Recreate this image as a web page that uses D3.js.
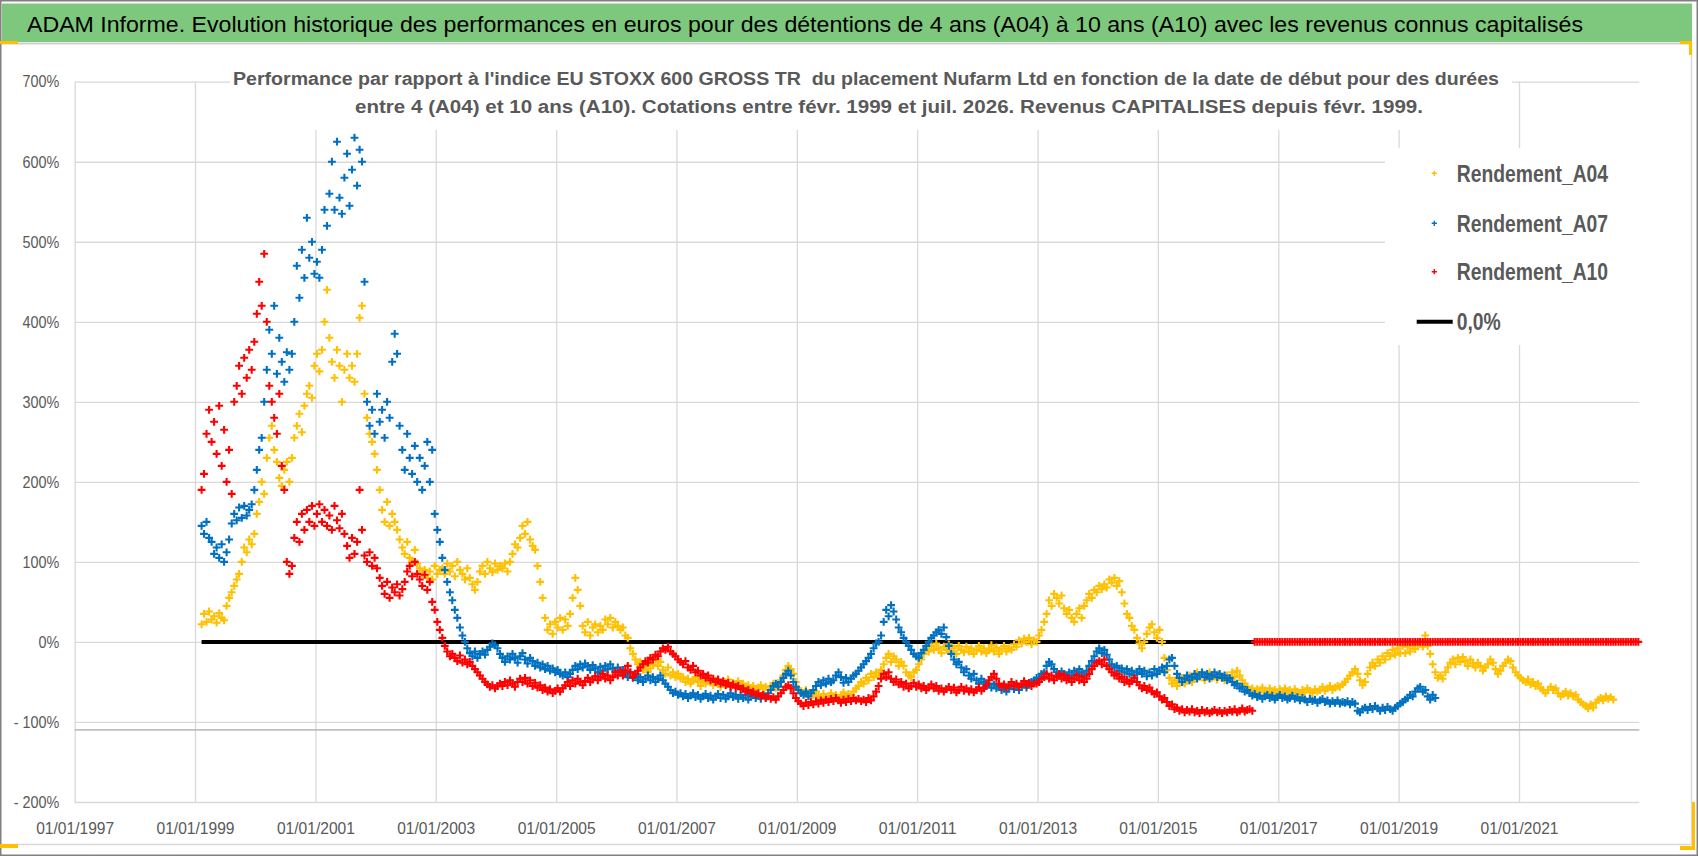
<!DOCTYPE html>
<html>
<head>
<meta charset="utf-8">
<script src="https://cdn.jsdelivr.net/npm/d3@7/dist/d3.min.js"></script>
<style>
  html, body { margin: 0; padding: 0; background: #fff; }
  svg text { font-family: "Liberation Sans", Arial, sans-serif; white-space: pre; }
</style>
</head>
<body>
<svg id="chart" width="1698" height="856"></svg>
<script>
// Texts
const mainTitle = "ADAM Informe. Evolution historique des performances en euros pour des détentions de 4 ans (A04) à 10 ans (A10) avec les revenus connus capitalisés";
const subTitleLines = [
    "Performance par rapport à l'indice EU STOXX 600 GROSS TR  du placement Nufarm Ltd en fonction de la date de début pour des durées",
    "entre 4 (A04) et 10 ans (A10). Cotations entre févr. 1999 et juil. 2026. Revenus CAPITALISES depuis févr. 1999."
];
const seriesNames = ["Rendement_A04", "Rendement_A07", "Rendement_A10"];
const zeroLineName = "0,0%";

// Axis ticks
const xTickLabels = ["01/01/1997", "01/01/1999", "01/01/2001", "01/01/2003", "01/01/2005", "01/01/2007",
    "01/01/2009", "01/01/2011", "01/01/2013", "01/01/2015", "01/01/2017", "01/01/2019", "01/01/2021"];
const xDomainLabels = ["01/01/1997", "01/01/2023"];
const yTickValues = [-200, -100, 0, 100, 200, 300, 400, 500, 600, 700];
const axisCrossValue = -110;

// Series: one value every half month, starting at seriesStart (values in %)
const seriesStart = "1999-02-10";

const a04Values = [
    22, 35, 25, 38, 28, 32, 24, 36, 30, 27, 45, 55, 62, 70, 78, 85, 100, 118, 112, 128, 122, 135, 160, 175,
    200, 185, 230, 255, 270, 240, 225, 205, 195, 215, 225, 200, 230, 255, 270, 285, 262, 295, 310, 320, 305, 345, 360, 338,
    365, 400, 440, 380, 350, 330, 365, 345, 300, 340, 360, 330, 345, 325, 360, 405, 420, 310, 280, 260, 250, 235, 215, 190,
    165, 150, 175, 145, 160, 150, 140, 128, 118, 110, 125, 105, 100, 115, 98, 92, 85, 90, 80, 88, 78, 95, 85, 90,
    92, 85, 98, 88, 95, 82, 100, 90, 85, 78, 92, 80, 72, 65, 75, 88, 95, 85, 100, 92, 87, 98, 90, 95,
    92, 98, 88, 100, 110, 122, 118, 130, 145, 135, 150, 128, 120, 115, 95, 75, 55, 30, 15, 22, 10, 25, 18, 30,
    15, 28, 20, 35, 55, 80, 65, 45, 20, 12, 25, 8, 18, 22, 12, 20, 15, 28, 22, 30, 18, 25, 20, 15,
    18, 8, 5, -8, -15, -22, -28, -25, -35, -30, -38, -33, -28, -22, -30, -25, -35, -40, -32, -42, -38, -44, -40, -46,
    -44, -50, -46, -52, -48, -44, -50, -55, -48, -52, -45, -50, -54, -48, -52, -56, -50, -53, -47, -55, -51, -54, -49, -55,
    -52, -56, -54, -58, -55, -60, -57, -54, -59, -56, -60, -55, -52, -58, -54, -48, -42, -35, -30, -34, -40, -50, -58, -62,
    -65, -60, -68, -64, -66, -62, -68, -70, -65, -72, -68, -64, -70, -66, -72, -67, -63, -68, -65, -70, -62, -58, -55, -50,
    -52, -45, -48, -40, -44, -38, -42, -35, -28, -20, -15, -25, -18, -22, -30, -25, -30, -38, -42, -44, -38, -35, -28, -22,
    -15, -8, -12, -5, -10, -2, -8, -14, -6, -10, -3, -12, -8, -15, -5, -10, -13, -6, -12, -8, -15, -10, -5, -12,
    -8, -14, -10, -4, -12, -7, -15, -9, -5, -12, -8, -10, -3, -6, 2, -2, 4, 0, 5, -3, 2, 0, 8, 15,
    25, 35, 52, 45, 60, 55, 48, 58, 42, 35, 40, 30, 25, 35, 42, 30, 45, 52, 60, 55, 65, 62, 70, 66,
    72, 68, 78, 74, 80, 70, 76, 62, 48, 35, 30, 20, 15, 5, -2, -8, 0, 10, 18, 22, 12, 5, 15, 0,
    -20, -35, -45, -52, -48, -55, -50, -45, -52, -48, -42, -50, -46, -38, -44, -40, -48, -43, -38, -45, -42, -47, -40, -44,
    -48, -42, -46, -38, -44, -36, -42, -48, -52, -56, -60, -58, -62, -59, -63, -57, -61, -64, -58, -62, -60, -64, -59, -62,
    -58, -63, -60, -64, -59, -62, -65, -60, -63, -58, -61, -64, -59, -62, -60, -56, -61, -58, -55, -60, -57, -55, -56, -53,
    -50, -46, -42, -38, -34, -40, -48, -54, -50, -40, -32, -26, -30, -22, -26, -18, -22, -14, -18, -10, -16, -8, -14, -5,
    -14, -6, -12, -4, -9, -3, 0, -6, 8, -5, -15, -28, -38, -45, -42, -46, -38, -32, -26, -22, -28, -20, -25, -19,
    -24, -30, -22, -27, -32, -26, -30, -36, -32, -28, -22, -26, -34, -40, -36, -30, -26, -22, -24, -32, -38, -42, -45, -48,
    -50, -47, -53, -50, -55, -52, -58, -60, -64, -60, -56, -60, -58, -64, -68, -65, -62, -67, -64, -68, -66, -72, -75, -78,
    -80, -83, -78, -82, -76, -72, -70, -73, -68, -71, -69, -72
];

const a07Values = [
    145, 135, 150, 130, 125, 110, 118, 105, 122, 100, 112, 128, 148, 160, 152, 168, 155, 170, 158, 165, 172, 190, 215, 240,
    255, 300, 340, 390, 360, 420, 335, 380, 350, 325, 362, 340, 360, 400, 470, 430, 490, 455, 530, 480, 500, 460, 475, 455,
    490, 540, 520, 560, 600, 540, 625, 555, 535, 580, 610, 545, 590, 630, 570, 615, 600, 450, 300, 270, 290, 260, 310, 275,
    290, 255, 300, 280, 350, 385, 360, 270, 240, 215, 260, 230, 210, 245, 200, 230, 190, 220, 250, 200, 240, 160, 140, 125,
    105, 90, 75, 62, 52, 40, 30, 18, 8, 0, -8, -14, -18, -12, -20, -15, -12, -16, -10, -6, -2, -4, -8, -15,
    -20, -25, -18, -22, -15, -20, -26, -18, -14, -22, -27, -20, -24, -30, -26, -32, -28, -34, -30, -36, -33, -38, -35, -40,
    -42, -38, -44, -40, -35, -30, -34, -28, -32, -27, -30, -35, -29, -33, -38, -31, -36, -30, -34, -28, -33, -37, -32, -38,
    -35, -40, -44, -38, -45, -42, -48, -44, -50, -46, -42, -48, -44, -50, -46, -42, -48, -52, -56, -60, -64, -62, -66, -64,
    -68, -65, -70, -67, -64, -69, -66, -71, -68, -65, -70, -67, -72, -68, -65, -70, -66, -71, -68, -64, -69, -66, -71, -67,
    -70, -66, -72, -68, -65, -70, -67, -71, -66, -69, -64, -60, -55, -52, -56, -50, -45, -40, -36, -42, -50, -56, -60, -64,
    -66, -62, -68, -64, -60, -55, -50, -54, -48, -52, -46, -50, -48, -42, -38, -44, -51, -45, -50, -46, -42, -40, -36, -32,
    -28, -24, -20, -15, -8, -2, 0, 8, 25, 40, 32, 46, 38, 28, 18, 12, 5, 0, -5, -10, -15, -18, -20, -14,
    -10, -5, 0, 5, 8, 12, 15, 10, 18, 6, -5, -15, -22, -28, -25, -32, -38, -34, -42, -46, -40, -48, -52, -46,
    -50, -55, -52, -57, -53, -58, -55, -60, -56, -62, -58, -54, -59, -55, -60, -56, -52, -57, -53, -50, -48, -45, -46, -40,
    -38, -30, -25, -28, -34, -38, -42, -37, -40, -44, -38, -42, -36, -40, -34, -38, -42, -36, -30, -24, -18, -12, -8, -14,
    -10, -16, -22, -28, -32, -30, -36, -33, -38, -34, -40, -36, -42, -38, -34, -40, -36, -43, -38, -42, -34, -40, -36, -32,
    -38, -30, -22, -20, -30, -40, -45, -50, -46, -42, -48, -44, -40, -46, -42, -38, -44, -40, -46, -42, -38, -44, -40, -45,
    -42, -48, -45, -50, -54, -52, -58, -56, -62, -60, -64, -67, -65, -69, -67, -71, -68, -66, -70, -67, -72, -69, -66, -70,
    -68, -72, -70, -67, -71, -69, -73, -70, -72, -75, -71, -74, -72, -76, -73, -71, -75, -73, -77, -74, -76, -73, -77, -75,
    -76, -74, -78, -75, -77, -86, -88, -84, -82, -85, -81, -84, -80, -83, -86, -82, -85, -81, -84, -86, -82, -80, -77, -75,
    -72, -70, -66, -68, -62, -58, -56, -62, -60, -68, -72, -66, -70
];

const a10Values = [
    190, 210, 260, 290, 250, 275, 235, 295, 220, 265, 200, 240, 185, 300, 320, 345, 310, 355, 330, 365, 340, 375, 410, 450,
    420, 485, 400, 320, 300, 280, 260, 310, 220, 190, 100, 85, 95, 130, 150, 125, 160, 140, 165, 150, 170, 145, 160, 172,
    150, 165, 145, 158, 140, 170, 152, 142, 160, 135, 120, 105, 130, 110, 125, 190, 140, 108, 100, 112, 95, 105, 92, 80,
    70, 60, 75, 55, 68, 62, 72, 58, 66, 75, 88, 95, 82, 100, 85, 78, 70, 84, 65, 75, 50, 40, 25, 15,
    5, -5, -12, -18, -15, -20, -24, -17, -26, -22, -28, -25, -30, -34, -38, -42, -46, -50, -53, -56, -54, -58, -55, -52,
    -55, -50, -54, -48, -52, -56, -50, -46, -50, -45, -52, -48, -55, -51, -57, -54, -60, -57, -62, -59, -64, -61, -58, -62,
    -58, -54, -50, -55, -48, -52, -46, -50, -54, -49, -45, -50, -47, -43, -48, -44, -40, -46, -42, -48, -44, -38, -42, -36,
    -42, -36, -30, -38, -44, -40, -36, -32, -28, -24, -26, -20, -22, -16, -18, -12, -8, -10, -6, -12, -15, -18, -22, -25,
    -28, -24, -32, -35, -30, -38, -36, -42, -40, -45, -42, -48, -46, -50, -47, -52, -49, -54, -51, -56, -53, -57, -55, -59,
    -58, -62, -60, -64, -62, -66, -64, -68, -66, -70, -68, -71, -69, -72, -68, -64, -60, -56, -54, -58, -64, -70, -74, -77,
    -80, -76, -79, -75, -78, -74, -77, -73, -76, -72, -75, -71, -74, -70, -73, -76, -72, -75, -71, -74, -70, -73, -71, -74,
    -72, -75, -70, -73, -68, -62, -55, -46, -40, -44, -38, -46, -50, -47, -53, -50, -56, -52, -58, -55, -51, -56, -53, -58,
    -55, -60, -57, -53, -58, -55, -61, -58, -62, -59, -56, -60, -57, -63, -60, -56, -61, -58, -62, -59, -63, -60, -57, -61,
    -58, -54, -48, -44, -40, -46, -52, -56, -53, -57, -54, -50, -55, -52, -56, -53, -49, -54, -51, -55, -52, -52, -50, -46,
    -44, -40, -46, -42, -48, -44, -40, -46, -42, -48, -45, -50, -46, -42, -48, -44, -50, -46, -40, -34, -30, -26, -24, -28,
    -22, -30, -34, -38, -42, -40, -46, -44, -50, -47, -52, -49, -45, -50, -54, -58, -55, -60, -57, -62, -65, -63, -68, -72,
    -70, -75, -80, -78, -84, -82, -86, -84, -88, -85, -87, -84, -88, -86, -89, -85, -88, -86, -89, -87, -85, -88, -86, -89,
    -86, -88, -85, -87, -84, -88, -86, -83, -87, -85, -84, -86,
    // no 10-year window left: the sheet shows 0
    0, 0, 0, 0, 0, 0, 0, 0, 0, 0, 0, 0, 0, 0, 0, 0, 0, 0, 0, 0, 0, 0, 0, 0,
    0, 0, 0, 0, 0, 0, 0, 0, 0, 0, 0, 0, 0, 0, 0, 0, 0, 0, 0, 0, 0, 0, 0, 0,
    0, 0, 0, 0, 0, 0, 0, 0, 0, 0, 0, 0, 0, 0, 0, 0, 0, 0, 0, 0, 0, 0, 0, 0,
    0, 0, 0, 0, 0, 0, 0, 0, 0, 0, 0, 0, 0, 0, 0, 0, 0, 0, 0, 0, 0, 0, 0, 0,
    0, 0, 0, 0, 0, 0, 0, 0, 0, 0, 0, 0, 0, 0, 0, 0, 0, 0, 0, 0, 0, 0, 0, 0,
    0, 0, 0, 0, 0, 0, 0, 0, 0, 0, 0, 0, 0, 0, 0, 0, 0, 0, 0, 0, 0, 0, 0, 0,
    0, 0, 0, 0, 0, 0, 0, 0, 0, 0
];

const zeroLineDates = ["1999-02-10", "2016-08-10"];
const zeroLineValues = [0, 0];

// Colors
const colorA04 = "#ffc000";
const colorA07 = "#0070c0";
const colorA10 = "#ff0000";
const colorGrid = "#d9d9d9";
const colorLabel = "#595959";
const colorBand = "#7ec87e";

const svg = d3.select("#chart");
const W = 1698, H = 856;
const plot = { left: 74.7, right: 1639.3, top: 81.7, bottom: 802 };

// Frame and title band
svg.append("rect").attr("width", W).attr("height", H).attr("fill", "#fff");
svg.append("rect").attr("x", 2).attr("y", 3.5).attr("width", 1690).attr("height", 38.5).attr("fill", colorBand);
svg.append("line").attr("x1", 0).attr("x2", 1692).attr("y1", 43.5).attr("y2", 43.5)
    .attr("stroke", "#cfcfcf").attr("stroke-width", 2);
svg.append("line").attr("x1", 1691.5).attr("x2", 1691.5).attr("y1", 44).attr("y2", 845)
    .attr("stroke", colorGrid).attr("stroke-width", 1.5);
svg.append("line").attr("x1", 0).attr("x2", 1692).attr("y1", 844.5).attr("y2", 844.5)
    .attr("stroke", colorGrid).attr("stroke-width", 1.5);
svg.append("rect").attr("x", 0.75).attr("y", 0.75).attr("width", W - 1.5).attr("height", H - 1.5)
    .attr("fill", "none").attr("stroke", "#808080").attr("stroke-width", 1.5);

// selection handles of the sheet
const handles = [
    [0, 41, 18, 3], [1680, 41, 12, 3], [1689, 41, 3, 14],
    [1692, 802, 3, 48], [1680, 846, 15, 4], [0, 844, 18, 4]
];
svg.selectAll(".handle").data(handles).join("rect").attr("class", "handle")
    .attr("x", d => d[0]).attr("y", d => d[1]).attr("width", d => d[2]).attr("height", d => d[3])
    .attr("fill", colorA04);

svg.append("text")
    .attr("x", 27).attr("y", 32)
    .attr("font-size", 21.5)
    .attr("fill", "#000")
    .attr("textLength", 1556).attr("lengthAdjust", "spacingAndGlyphs")
    .text(mainTitle);

// Scales
const parseDay = d3.timeParse("%Y-%m-%d");
const parseTick = d3.timeParse("%d/%m/%Y");
const startDay = parseDay(seriesStart);
const dateAt = i => d3.timeDay.offset(startDay, Math.round(i * 365.25 / 24));

const x = d3.scaleTime()
    .domain(xDomainLabels.map(parseTick))
    .range([plot.left, plot.right]);
const y = d3.scaleLinear()
    .domain([d3.min(yTickValues), d3.max(yTickValues)])
    .range([plot.bottom, plot.top]);

// Axes with gridlines
const fmtPct = d => d < 0 ? "- " + (-d) + "%" : d + "%";

const yAxis = svg.append("g")
    .attr("transform", `translate(${plot.left},0)`)
    .call(d3.axisLeft(y).tickValues(yTickValues).tickFormat(fmtPct)
        .tickSize(-(plot.right - plot.left)).tickPadding(15.5));
yAxis.select(".domain").remove();
yAxis.selectAll("line").attr("stroke", colorGrid).attr("stroke-width", 1.3);
yAxis.selectAll("text")
    .attr("fill", colorLabel).attr("font-size", 16.5).attr("font-family", "Liberation Sans, Arial, sans-serif")
    .each(function () {
        const w = this.getComputedTextLength();
        d3.select(this).attr("textLength", w * 0.87).attr("lengthAdjust", "spacingAndGlyphs");
    });

const xAxis = svg.append("g")
    .attr("transform", `translate(0,${plot.bottom})`)
    .call(d3.axisBottom(x).tickValues(xTickLabels.map(parseTick)).tickFormat(d3.timeFormat("%d/%m/%Y"))
        .tickSize(-(plot.bottom - plot.top)).tickPadding(20));
xAxis.select(".domain").remove();
xAxis.selectAll("line").attr("stroke", colorGrid).attr("stroke-width", 1.3);
xAxis.selectAll("text")
    .attr("fill", colorLabel).attr("font-size", 16.5).attr("font-family", "Liberation Sans, Arial, sans-serif")
    .attr("textLength", 78).attr("lengthAdjust", "spacingAndGlyphs");

// horizontal axis line crossing at -110%
svg.append("line")
    .attr("x1", plot.left).attr("x2", plot.right)
    .attr("y1", y(axisCrossValue)).attr("y2", y(axisCrossValue))
    .attr("stroke", "#bfbfbf").attr("stroke-width", 1.8);

// 0,0% reference line
const zeroPts = zeroLineDates.map((d, i) => ({ date: parseDay(d), value: zeroLineValues[i] }));
svg.append("path")
    .datum(zeroPts)
    .attr("fill", "none").attr("stroke", "#000").attr("stroke-width", 4)
    .attr("d", d3.line().x(d => x(d.date)).y(d => y(d.value)));

// Cross markers
const plus = r => `M${-r},0H${r}M0,${-r}V${r}`;
const seriesList = [
    { values: a04Values, color: colorA04 },
    { values: a07Values, color: colorA07 },
    { values: a10Values, color: colorA10 }
];
seriesList.forEach(s => {
    const pts = s.values.map((v, i) => ({ date: dateAt(i), value: v }));
    svg.append("g").selectAll("path").data(pts).join("path")
        .attr("transform", d => `translate(${x(d.date).toFixed(1)},${y(d.value).toFixed(1)})`)
        .attr("d", plus(3.9))
        .attr("fill", "none").attr("stroke", s.color).attr("stroke-width", 2.1);
});

// Subtitle on white box
svg.append("rect").attr("x", 230).attr("y", 58).attr("width", 1282).attr("height", 72).attr("fill", "#fff");
const subPos = [{ x: 233, y: 85, w: 1266 }, { x: 355, y: 112.5, w: 1068 }];
subTitleLines.forEach((line, i) => {
    svg.append("text")
        .attr("x", subPos[i].x).attr("y", subPos[i].y)
        .attr("font-size", 18).attr("font-weight", "bold")
        .attr("fill", colorLabel)
        .attr("textLength", subPos[i].w).attr("lengthAdjust", "spacingAndGlyphs")
        .text(line);
});

// Legend
const legend = svg.append("g");
legend.append("rect").attr("x", 1385).attr("y", 148).attr("width", 256).attr("height", 197).attr("fill", "#fff");
const legendRows = [173.3, 223.3, 271.7, 321.7];
seriesList.forEach((s, i) => {
    legend.append("path")
        .attr("transform", `translate(1434.3,${legendRows[i]})`)
        .attr("d", plus(2.6)).attr("fill", "none").attr("stroke", s.color).attr("stroke-width", 1.4);
});
legend.append("line")
    .attr("x1", 1416.7).attr("x2", 1452.7).attr("y1", legendRows[3]).attr("y2", legendRows[3])
    .attr("stroke", "#000").attr("stroke-width", 4);
seriesNames.concat([zeroLineName]).forEach((name, i) => {
    legend.append("text")
        .attr("x", 1456.7).attr("y", legendRows[i]).attr("dy", "0.36em")
        .attr("font-size", 23).attr("font-weight", "bold").attr("fill", colorLabel)
        .text(name)
        .each(function () {
            const w = this.getComputedTextLength();
            d3.select(this).attr("textLength", w * 0.84).attr("lengthAdjust", "spacingAndGlyphs");
        });
});
</script>
</body>
</html>
